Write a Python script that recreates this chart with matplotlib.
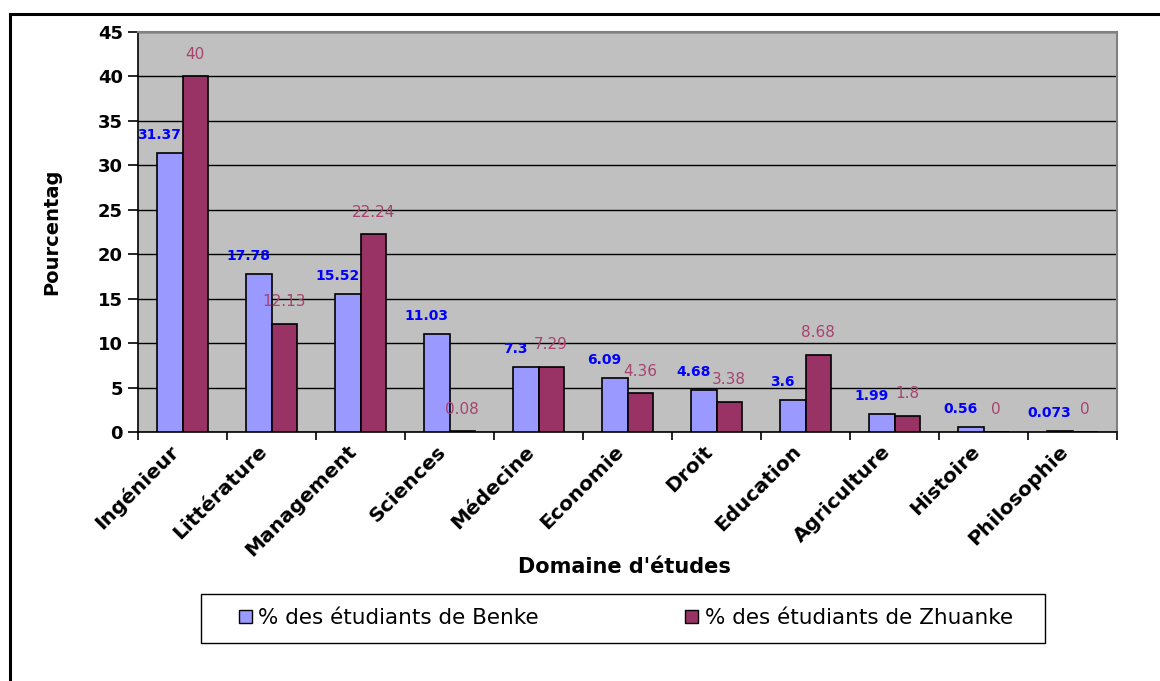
import numpy as np
import matplotlib
matplotlib.use("Agg")
import matplotlib.pyplot as plt
import matplotlib.transforms as mtransforms
from matplotlib.lines import Line2D
from matplotlib.patches import Patch, Rectangle

plt.rcParams["font.family"] = ["DejaVu Sans"]

domaines = ["Ingénieur", "Littérature", "Management", "Sciences", "Médecine",
            "Economie", "Droit", "Education", "Agriculture", "Histoire", "Philosophie"]
benke = [31.37, 17.78, 15.52, 11.03, 7.3, 6.09, 4.68, 3.6, 1.99, 0.56, 0.073]
zhuanke = [40, 12.13, 22.24, 0.08, 7.29, 4.36, 3.38, 8.68, 1.8, 0, 0]
benke_labels = ["31.37", "17.78", "15.52", "11.03", "7.3", "6.09", "4.68", "3.6",
                "1.99", "0.56", "0.073"]
zhuanke_labels = ["40", "12.13", "22.24", "0.08", "7.29", "4.36", "3.38", "8.68",
                  "1.8", "0", "0"]

col_benke = "#9999FF"
col_zhuanke = "#993366"

fig = plt.figure(figsize=(11.6, 6.81), dpi=100)
ax = fig.add_axes([138 / 1160, 1 - 432 / 681, 979 / 1160, 400 / 681])
ax.set_facecolor("#C0C0C0")

x = np.arange(len(domaines))
w = 0.285
ax.bar(x - w / 2, benke, w, color=col_benke, edgecolor="black", linewidth=1.2, zorder=3)
ax.bar(x + w / 2, zhuanke, w, color=col_zhuanke, edgecolor="black", linewidth=1.2, zorder=3)

for xi, v, s in zip(x, benke, benke_labels):
    ax.annotate(s, (xi - w / 2 - 0.12, v), xytext=(0, 13), textcoords="offset points",
                ha="center", va="center", color="#0000FF", fontsize=10,
                fontweight="bold", zorder=4)
for xi, v, s in zip(x, zhuanke, zhuanke_labels):
    ax.annotate(s, (xi + w / 2, v), xytext=(0, 16), textcoords="offset points",
                ha="center", va="center", color="#A8426F", fontsize=11, zorder=4)

ax.set_xlim(-0.5, len(domaines) - 0.5)
ax.set_ylim(0, 45)
ax.set_yticks(range(0, 46, 5))
ax.grid(True, axis="y", color="black", linewidth=1.0, zorder=1)
ax.tick_params(axis="y", direction="out", length=7, width=1.2, labelsize=13, pad=4)
for lab in ax.get_yticklabels():
    lab.set_fontweight("bold")

# category boundaries as ticks, names at centers
ax.set_xticks(np.arange(-0.5, len(domaines), 1.0))
ax.set_xticklabels([])
ax.tick_params(axis="x", which="major", direction="out", length=6, width=1.2)
ax.set_xticks(x, minor=True)
ax.set_xticklabels(domaines, minor=True, rotation=45, ha="right", va="center",
                   rotation_mode="anchor", fontsize=14.5, fontweight="bold")
ax.tick_params(axis="x", which="minor", length=0, pad=12)
shift = mtransforms.ScaledTranslation(-7 / 100, 0, fig.dpi_scale_trans)
for lab in ax.get_xticklabels(minor=True):
    lab.set_transform(lab.get_transform() + shift)

for side in ["top", "right"]:
    ax.spines[side].set_color("#808080")
    ax.spines[side].set_linewidth(1.5)
ax.spines["left"].set_linewidth(1.2)
ax.spines["bottom"].set_linewidth(1.2)

fig.text(52 / 1160, 1 - 232 / 681, "Pourcentag", rotation=90, ha="center", va="center",
         fontsize=14, fontweight="bold")
fig.text(624 / 1160, 1 - 567 / 681, "Domaine d'études", ha="center", va="center",
         fontsize=15, fontweight="bold")

# outer frame (top and left edges)
fig.add_artist(Line2D([10 / 1160, 1.0], [1 - 14 / 681, 1 - 14 / 681],
                      transform=fig.transFigure, color="black", linewidth=2.2))
fig.add_artist(Line2D([10 / 1160, 10 / 1160], [0, 1 - 14 / 681],
                      transform=fig.transFigure, color="black", linewidth=2.2))

# legend box
fig.add_artist(Rectangle((201 / 1160, 1 - 643 / 681), 844 / 1160, 49 / 681,
                         transform=fig.transFigure, facecolor="white",
                         edgecolor="black", linewidth=1.0, zorder=1))
handles = [Patch(facecolor=col_benke, edgecolor="black", linewidth=1),
           Patch(facecolor=col_zhuanke, edgecolor="black", linewidth=1)]
leg = fig.legend(handles, ["% des étudiants de Benke", "% des étudiants de Zhuanke"],
                 loc="center", bbox_to_anchor=(626 / 1160, 1 - 618 / 681), ncol=2,
                 fontsize=15.5, frameon=False,
                 handlelength=0.6, handleheight=0.6, handletextpad=0.3,
                 columnspacing=6.8, borderaxespad=0)
leg.set_zorder(2)

fig.savefig("out.png", dpi=100)
